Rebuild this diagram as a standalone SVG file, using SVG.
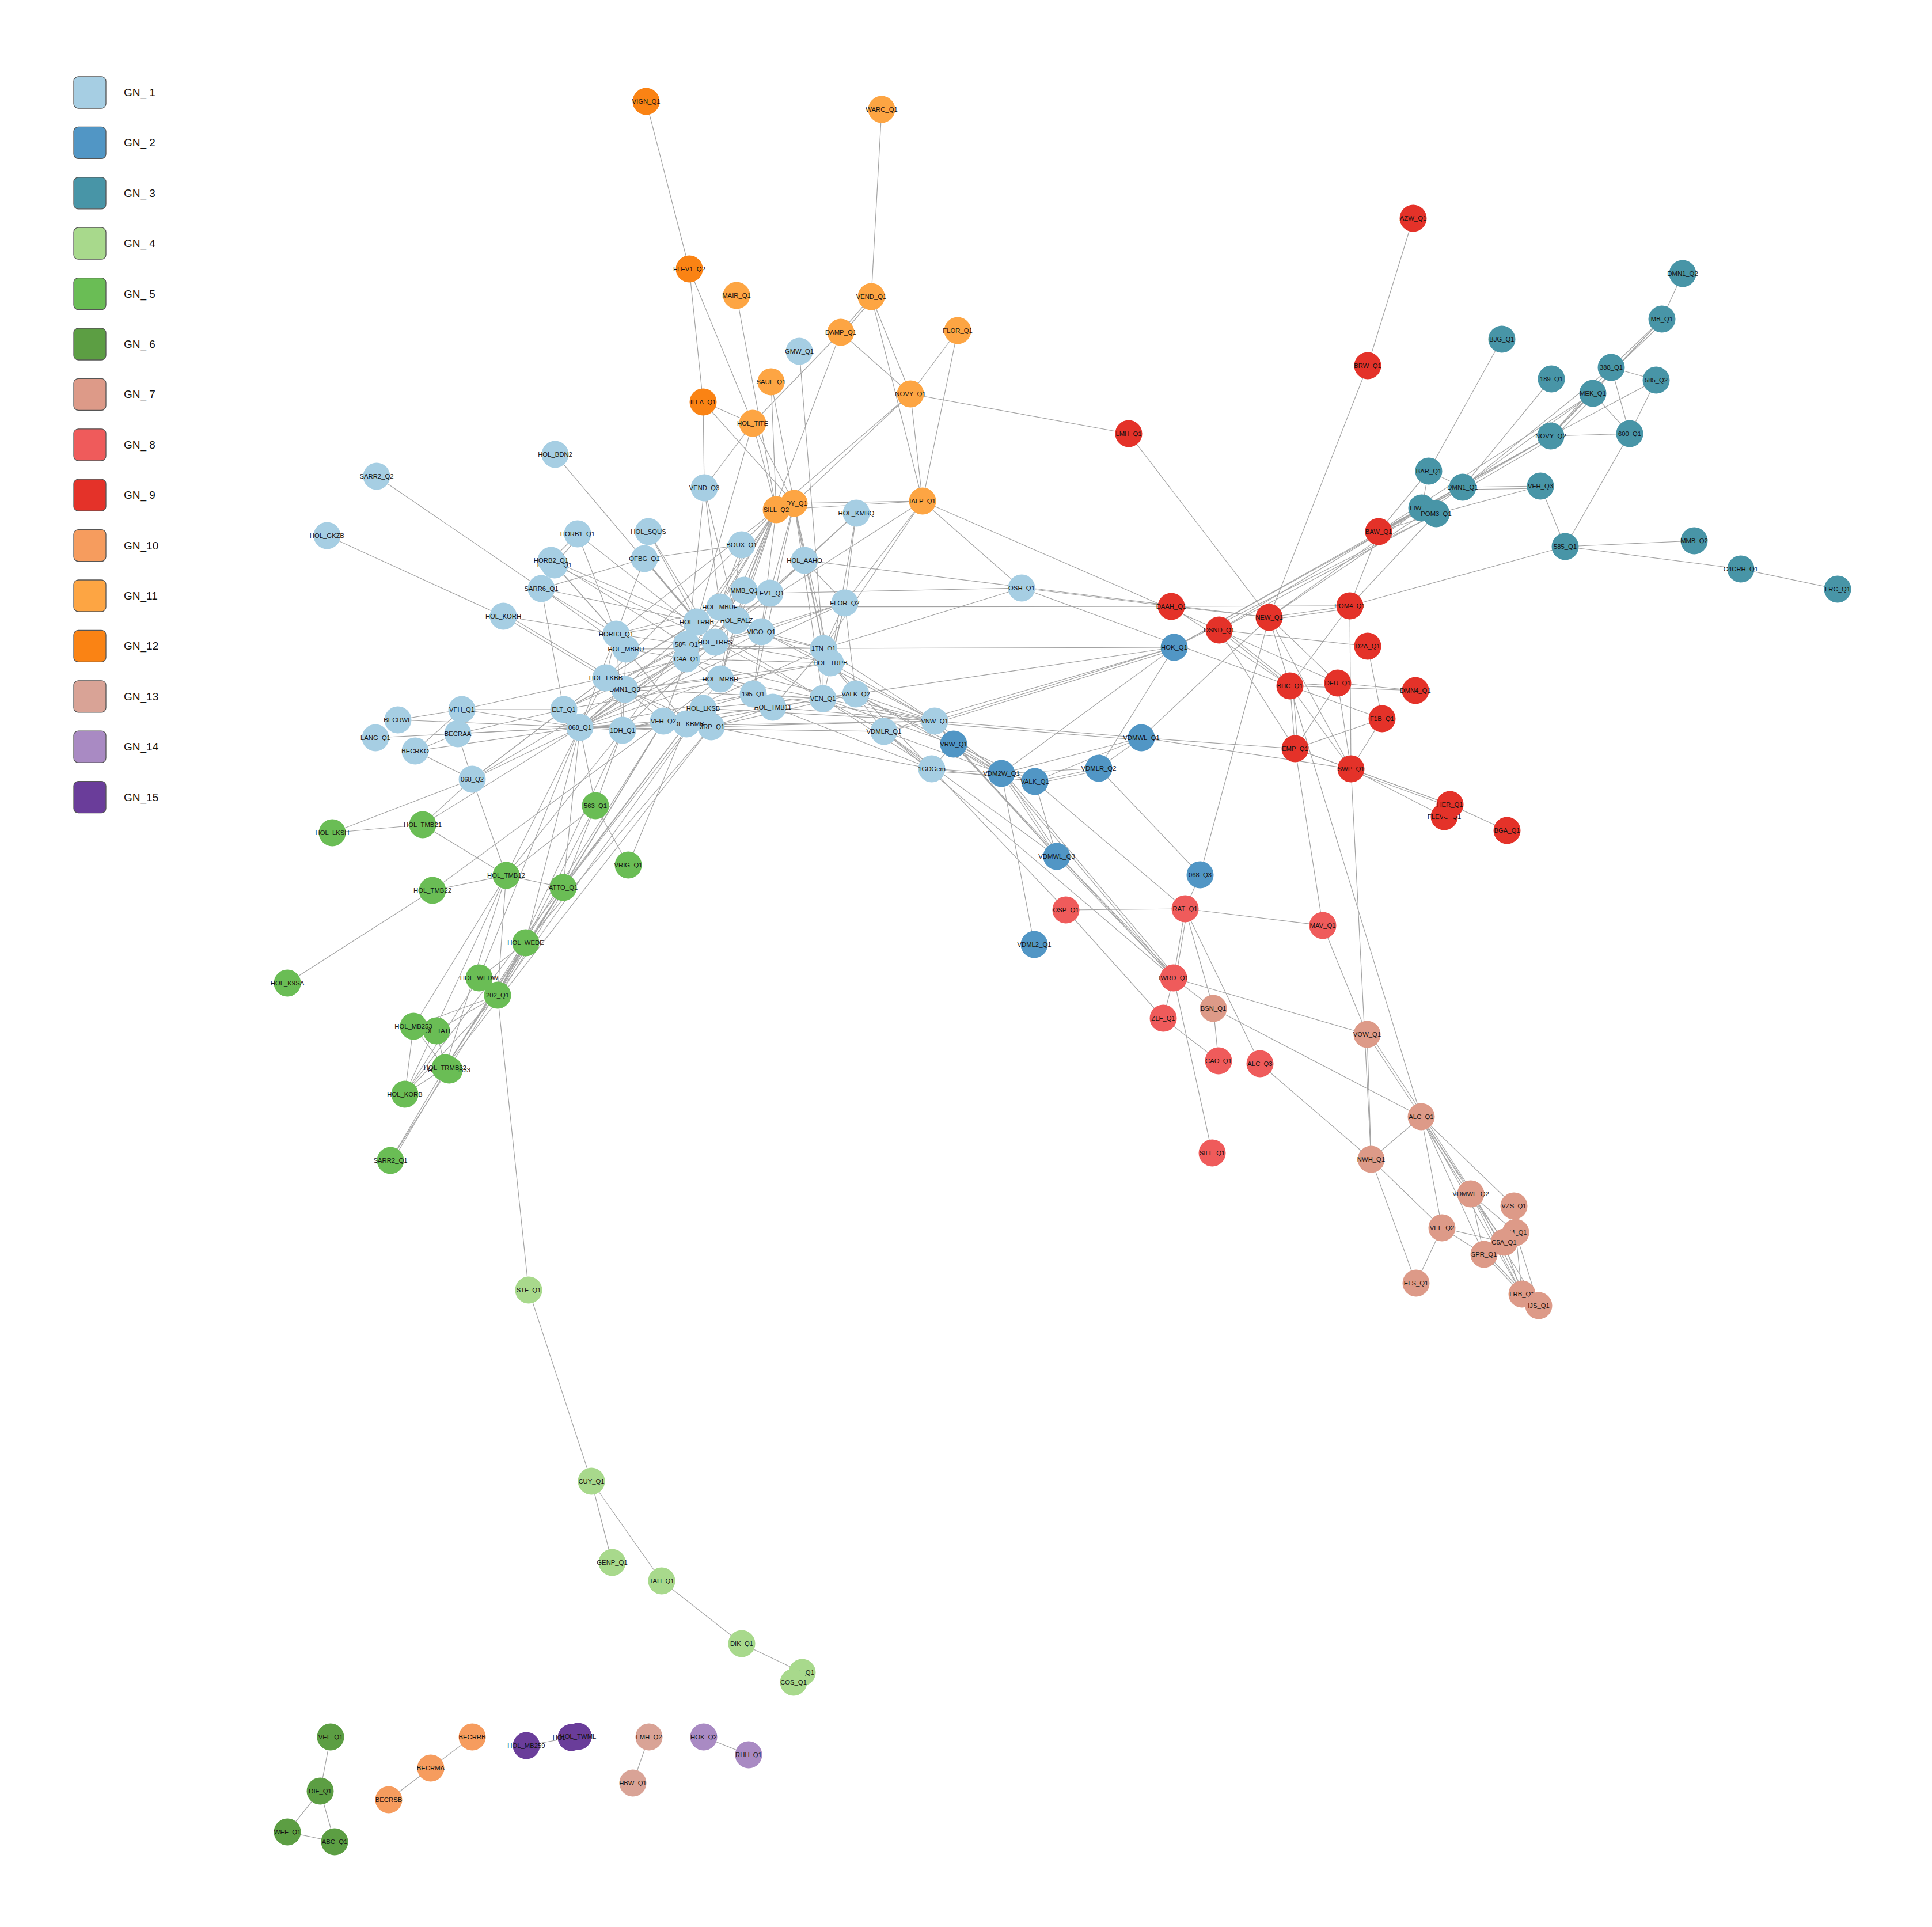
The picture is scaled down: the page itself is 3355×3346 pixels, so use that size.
<svg xmlns="http://www.w3.org/2000/svg" width="3355" height="3346" viewBox="0 0 3355 3346">
<style>
.t{font-family:"Liberation Sans",Arial,sans-serif;font-size:11.3px;fill:#111;text-anchor:middle;dominant-baseline:central}
.lg{font-family:"Liberation Sans",Arial,sans-serif;font-size:19px;fill:#111;dominant-baseline:central}
.lb{stroke:#555;stroke-width:1.3}
.c1{fill:#a6cee3}.c2{fill:#5196c5}.c3{fill:#4895a7}.c4{fill:#a8d98c}.c5{fill:#6abd55}.c6{fill:#5c9e43}.c7{fill:#dd9a88}.c8{fill:#ef5b5b}.c9{fill:#e43229}.c10{fill:#f69c5e}.c11{fill:#fda543}.c12{fill:#fa8314}.c13{fill:#d9a396}.c14{fill:#a98ac3}.c15{fill:#6a3d9a}
</style>
<rect width="3355" height="3346" fill="#fff"/>
<g id="legend">
<rect class="lb c1" x="128" y="133" width="56" height="55" rx="8"/><text class="lg" x="215" y="160.5">GN_ 1</text>
<rect class="lb c2" x="128" y="220.4" width="56" height="55" rx="8"/><text class="lg" x="215" y="247.9">GN_ 2</text>
<rect class="lb c3" x="128" y="307.8" width="56" height="55" rx="8"/><text class="lg" x="215" y="335.3">GN_ 3</text>
<rect class="lb c4" x="128" y="395.2" width="56" height="55" rx="8"/><text class="lg" x="215" y="422.7">GN_ 4</text>
<rect class="lb c5" x="128" y="482.6" width="56" height="55" rx="8"/><text class="lg" x="215" y="510.1">GN_ 5</text>
<rect class="lb c6" x="128" y="570" width="56" height="55" rx="8"/><text class="lg" x="215" y="597.5">GN_ 6</text>
<rect class="lb c7" x="128" y="657.4" width="56" height="55" rx="8"/><text class="lg" x="215" y="684.9">GN_ 7</text>
<rect class="lb c8" x="128" y="744.8" width="56" height="55" rx="8"/><text class="lg" x="215" y="772.3">GN_ 8</text>
<rect class="lb c9" x="128" y="832.2" width="56" height="55" rx="8"/><text class="lg" x="215" y="859.7">GN_ 9</text>
<rect class="lb c10" x="128" y="919.6" width="56" height="55" rx="8"/><text class="lg" x="215" y="947.1">GN_10</text>
<rect class="lb c11" x="128" y="1007" width="56" height="55" rx="8"/><text class="lg" x="215" y="1034.5">GN_11</text>
<rect class="lb c12" x="128" y="1094.4" width="56" height="55" rx="8"/><text class="lg" x="215" y="1121.9">GN_12</text>
<rect class="lb c13" x="128" y="1181.8" width="56" height="55" rx="8"/><text class="lg" x="215" y="1209.3">GN_13</text>
<rect class="lb c14" x="128" y="1269.2" width="56" height="55" rx="8"/><text class="lg" x="215" y="1296.7">GN_14</text>
<rect class="lb c15" x="128" y="1356.6" width="56" height="55" rx="8"/><text class="lg" x="215" y="1384.1">GN_15</text>
</g>
<g id="edges" stroke="#a3a3a3" stroke-width="1.2" fill="none">
<line x1="1122" y1="176" x2="1197" y2="467"/><line x1="1531" y1="190" x2="1513" y2="515"/><line x1="1197" y1="467" x2="1221" y2="698"/><line x1="1197" y1="467" x2="1307" y2="735"/><line x1="1279" y1="513" x2="1348" y2="885"/>
<line x1="1513" y1="515" x2="1460" y2="577"/><line x1="1516" y1="518" x2="1463" y2="580"/><line x1="1513" y1="515" x2="1581" y2="684"/><line x1="1513" y1="515" x2="1602" y2="870"/><line x1="1460" y1="577" x2="1307" y2="735"/><line x1="1460" y1="577" x2="1581" y2="684"/><line x1="1460" y1="577" x2="1292" y2="1025"/>
<line x1="1663" y1="574" x2="1581" y2="684"/><line x1="1663" y1="574" x2="1602" y2="870"/><line x1="1581" y1="684" x2="1602" y2="870"/><line x1="1581" y1="684" x2="1960" y2="753"/><line x1="1581" y1="684" x2="1379" y2="874"/><line x1="1581" y1="684" x2="1348" y2="885"/>
<line x1="1388" y1="610" x2="1430" y2="1126"/><line x1="1339" y1="663" x2="1348" y2="885"/><line x1="1339" y1="663" x2="1379" y2="874"/><line x1="1221" y1="698" x2="1223" y2="847"/><line x1="1221" y1="698" x2="1307" y2="735"/><line x1="1221" y1="698" x2="1379" y2="874"/>
<line x1="1307" y1="735" x2="1223" y2="847"/><line x1="1307" y1="735" x2="1210" y2="1080"/><line x1="1307" y1="735" x2="1348" y2="885"/><line x1="1307" y1="735" x2="1379" y2="874"/>
<line x1="1223" y1="847" x2="1192" y2="1144"/><line x1="1223" y1="847" x2="1250" y2="1054"/><line x1="1223" y1="847" x2="1279" y2="1077"/>
<line x1="1348" y1="885" x2="1210" y2="1080"/><line x1="1348" y1="885" x2="1250" y2="1054"/><line x1="1348" y1="885" x2="1242" y2="1115"/><line x1="1348" y1="885" x2="1192" y2="1119"/><line x1="1348" y1="885" x2="1251" y2="1179"/><line x1="1348" y1="885" x2="1292" y2="1025"/><line x1="1348" y1="885" x2="1279" y2="1077"/><line x1="1348" y1="885" x2="1322" y2="1097"/><line x1="1348" y1="885" x2="1192" y2="1144"/><line x1="1348" y1="885" x2="1070" y2="1101"/><line x1="1348" y1="885" x2="1052" y2="1177"/>
<line x1="1379" y1="874" x2="1430" y2="1126"/><line x1="1379" y1="874" x2="1442" y2="1151"/><line x1="1379" y1="874" x2="1337" y2="1030"/><line x1="1379" y1="874" x2="1397" y2="973"/><line x1="1379" y1="874" x2="1429" y2="1213"/><line x1="1379" y1="874" x2="1308" y2="1205"/>
<line x1="1602" y1="870" x2="1379" y2="874"/><line x1="1602" y1="870" x2="1348" y2="885"/><line x1="1602" y1="870" x2="1279" y2="1077"/><line x1="1602" y1="870" x2="1467" y2="1047"/><line x1="1602" y1="870" x2="2117" y2="1094"/><line x1="1602" y1="870" x2="1774" y2="1021"/><line x1="1602" y1="870" x2="1430" y2="1126"/>
<line x1="1487" y1="891" x2="1337" y2="1030"/><line x1="1487" y1="891" x2="1442" y2="1151"/><line x1="1487" y1="891" x2="1397" y2="973"/><line x1="1487" y1="891" x2="1467" y2="1047"/>
<line x1="964" y1="789" x2="1210" y2="1080"/><line x1="654" y1="827" x2="940" y2="1022"/><line x1="568" y1="930" x2="874" y2="1070"/>
<line x1="1003" y1="927" x2="957" y2="973"/><line x1="1006" y1="930" x2="963" y2="981"/><line x1="1003" y1="927" x2="1070" y2="1101"/><line x1="1003" y1="927" x2="1242" y2="1115"/>
<line x1="1126" y1="923" x2="1210" y2="1080"/><line x1="1126" y1="923" x2="1242" y2="1115"/>
<line x1="957" y1="973" x2="1070" y2="1101"/><line x1="963" y1="981" x2="1073" y2="1104"/><line x1="957" y1="973" x2="1210" y2="1080"/><line x1="963" y1="981" x2="1242" y2="1115"/><line x1="957" y1="973" x2="1192" y2="1119"/>
<line x1="1119" y1="970" x2="940" y2="1022"/><line x1="1119" y1="970" x2="1288" y2="946"/><line x1="1119" y1="970" x2="1070" y2="1101"/><line x1="1119" y1="970" x2="1210" y2="1080"/><line x1="1119" y1="970" x2="1242" y2="1115"/>
<line x1="1288" y1="946" x2="1250" y2="1054"/><line x1="1288" y1="946" x2="1251" y2="1179"/>
<line x1="1397" y1="973" x2="1337" y2="1030"/><line x1="1397" y1="973" x2="1279" y2="1077"/><line x1="1397" y1="973" x2="1430" y2="1126"/><line x1="1397" y1="973" x2="1467" y2="1047"/><line x1="1397" y1="973" x2="2204" y2="1072"/>
<line x1="940" y1="1022" x2="1070" y2="1101"/><line x1="940" y1="1022" x2="1087" y2="1127"/><line x1="940" y1="1022" x2="1210" y2="1080"/><line x1="940" y1="1022" x2="979" y2="1232"/>
<line x1="1292" y1="1025" x2="1192" y2="1144"/><line x1="1292" y1="1025" x2="1251" y2="1179"/><line x1="1292" y1="1025" x2="1210" y2="1080"/>
<line x1="1337" y1="1030" x2="1774" y2="1021"/><line x1="1337" y1="1030" x2="1322" y2="1097"/><line x1="1337" y1="1030" x2="1007" y2="1263"/>
<line x1="1250" y1="1054" x2="2034" y2="1053"/><line x1="1250" y1="1054" x2="1070" y2="1101"/><line x1="1250" y1="1054" x2="1052" y2="1177"/>
<line x1="1467" y1="1047" x2="1430" y2="1126"/><line x1="1467" y1="1047" x2="1429" y2="1213"/><line x1="1467" y1="1047" x2="1486" y2="1205"/><line x1="1467" y1="1047" x2="1442" y2="1151"/><line x1="1467" y1="1047" x2="1322" y2="1097"/><line x1="1467" y1="1047" x2="1242" y2="1115"/><line x1="1467" y1="1047" x2="1007" y2="1263"/>
<line x1="874" y1="1070" x2="1070" y2="1101"/><line x1="874" y1="1070" x2="1052" y2="1177"/><line x1="877" y1="1066" x2="1055" y2="1173"/>
<line x1="1210" y1="1080" x2="1279" y2="1077"/><line x1="1210" y1="1080" x2="1242" y2="1115"/><line x1="1210" y1="1080" x2="1070" y2="1101"/><line x1="1210" y1="1080" x2="1052" y2="1177"/><line x1="1210" y1="1080" x2="1007" y2="1263"/><line x1="1210" y1="1080" x2="1081" y2="1268"/><line x1="1210" y1="1080" x2="1430" y2="1126"/><line x1="1210" y1="1080" x2="1429" y2="1213"/>
<line x1="1279" y1="1077" x2="1242" y2="1115"/><line x1="1279" y1="1077" x2="1251" y2="1179"/><line x1="1279" y1="1077" x2="1007" y2="1263"/><line x1="1279" y1="1077" x2="979" y2="1232"/><line x1="1279" y1="1077" x2="1442" y2="1151"/>
<line x1="1322" y1="1097" x2="1242" y2="1115"/><line x1="1322" y1="1097" x2="1430" y2="1126"/><line x1="1322" y1="1097" x2="1308" y2="1205"/><line x1="1322" y1="1097" x2="1007" y2="1263"/><line x1="1322" y1="1097" x2="1623" y2="1252"/>
<line x1="1070" y1="1101" x2="1087" y2="1127"/><line x1="1070" y1="1101" x2="1192" y2="1119"/><line x1="1070" y1="1101" x2="1052" y2="1177"/><line x1="1070" y1="1101" x2="1081" y2="1268"/><line x1="1070" y1="1101" x2="1007" y2="1263"/>
<line x1="1087" y1="1127" x2="1192" y2="1144"/><line x1="1087" y1="1127" x2="1081" y2="1268"/><line x1="1087" y1="1127" x2="1192" y2="1257"/><line x1="1087" y1="1127" x2="1430" y2="1126"/>
<line x1="1192" y1="1119" x2="1430" y2="1126"/><line x1="1192" y1="1119" x2="979" y2="1232"/>
<line x1="1192" y1="1144" x2="1242" y2="1115"/><line x1="1192" y1="1144" x2="1007" y2="1263"/><line x1="1192" y1="1144" x2="1251" y2="1179"/><line x1="1192" y1="1144" x2="1442" y2="1151"/><line x1="1192" y1="1144" x2="1623" y2="1252"/><line x1="1192" y1="1144" x2="1052" y2="1177"/><line x1="1192" y1="1144" x2="1152" y2="1252"/>
<line x1="1242" y1="1115" x2="1442" y2="1151"/><line x1="1242" y1="1115" x2="1081" y2="1268"/><line x1="1242" y1="1115" x2="1429" y2="1213"/><line x1="1242" y1="1115" x2="979" y2="1232"/><line x1="1242" y1="1115" x2="1085" y2="1197"/>
<line x1="1430" y1="1126" x2="1342" y2="1228"/><line x1="1430" y1="1126" x2="1429" y2="1213"/><line x1="1430" y1="1126" x2="1623" y2="1252"/><line x1="1430" y1="1126" x2="1774" y2="1021"/><line x1="1430" y1="1126" x2="2039" y2="1124"/><line x1="1430" y1="1126" x2="1152" y2="1252"/>
<line x1="1442" y1="1151" x2="1486" y2="1205"/><line x1="1442" y1="1151" x2="1623" y2="1252"/><line x1="1442" y1="1151" x2="1618" y2="1335"/><line x1="1442" y1="1151" x2="1085" y2="1197"/><line x1="1442" y1="1151" x2="979" y2="1232"/>
<line x1="1052" y1="1177" x2="1085" y2="1197"/><line x1="1052" y1="1177" x2="979" y2="1232"/><line x1="1052" y1="1177" x2="1007" y2="1263"/><line x1="1052" y1="1177" x2="802" y2="1232"/><line x1="1052" y1="1177" x2="820" y2="1353"/><line x1="1052" y1="1177" x2="1192" y2="1257"/>
<line x1="1085" y1="1197" x2="1007" y2="1263"/><line x1="1085" y1="1197" x2="1152" y2="1252"/><line x1="1085" y1="1197" x2="1251" y2="1179"/><line x1="1085" y1="1197" x2="1429" y2="1213"/><line x1="1085" y1="1197" x2="1235" y2="1262"/>
<line x1="1251" y1="1179" x2="1308" y2="1205"/><line x1="1251" y1="1179" x2="1152" y2="1252"/><line x1="1251" y1="1179" x2="1192" y2="1257"/><line x1="1251" y1="1179" x2="1429" y2="1213"/><line x1="1251" y1="1179" x2="1007" y2="1263"/>
<line x1="1308" y1="1205" x2="1342" y2="1228"/><line x1="1308" y1="1205" x2="1429" y2="1213"/><line x1="1308" y1="1205" x2="1623" y2="1252"/><line x1="1308" y1="1205" x2="1007" y2="1263"/><line x1="1308" y1="1205" x2="1081" y2="1268"/>
<line x1="1342" y1="1228" x2="1429" y2="1213"/><line x1="1342" y1="1228" x2="1235" y2="1262"/><line x1="1342" y1="1228" x2="1623" y2="1252"/><line x1="1342" y1="1228" x2="1618" y2="1335"/><line x1="1342" y1="1228" x2="1152" y2="1252"/>
<line x1="1429" y1="1213" x2="1486" y2="1205"/><line x1="1429" y1="1213" x2="1535" y2="1270"/><line x1="1429" y1="1213" x2="1623" y2="1252"/><line x1="1429" y1="1213" x2="1618" y2="1335"/><line x1="1429" y1="1213" x2="1656" y2="1292"/><line x1="1429" y1="1213" x2="1192" y2="1257"/>
<line x1="1486" y1="1205" x2="1535" y2="1270"/><line x1="1486" y1="1205" x2="1623" y2="1252"/><line x1="1486" y1="1205" x2="1656" y2="1292"/><line x1="1486" y1="1205" x2="1739" y2="1343"/><line x1="1486" y1="1205" x2="2039" y2="1124"/><line x1="1486" y1="1205" x2="1235" y2="1262"/><line x1="1486" y1="1205" x2="1221" y2="1230"/>
<line x1="979" y1="1232" x2="1007" y2="1263"/><line x1="979" y1="1232" x2="795" y2="1274"/><line x1="979" y1="1232" x2="820" y2="1353"/><line x1="979" y1="1232" x2="802" y2="1232"/>
<line x1="1007" y1="1263" x2="1081" y2="1268"/><line x1="1007" y1="1263" x2="691" y2="1250"/><line x1="1007" y1="1263" x2="802" y2="1232"/><line x1="1007" y1="1263" x2="795" y2="1274"/><line x1="1007" y1="1263" x2="652" y2="1281"/><line x1="1007" y1="1263" x2="721" y2="1304"/><line x1="1007" y1="1263" x2="820" y2="1353"/><line x1="1007" y1="1263" x2="1034" y2="1399"/><line x1="1007" y1="1263" x2="879" y2="1520"/><line x1="1007" y1="1263" x2="832" y2="1698"/><line x1="1007" y1="1263" x2="913" y2="1637"/><line x1="1007" y1="1263" x2="1535" y2="1270"/><line x1="1007" y1="1263" x2="1623" y2="1252"/><line x1="1007" y1="1263" x2="1192" y2="1257"/><line x1="1007" y1="1263" x2="1152" y2="1252"/><line x1="1007" y1="1263" x2="978" y2="1541"/><line x1="1007" y1="1263" x2="734" y2="1432"/>
<line x1="1081" y1="1268" x2="1152" y2="1252"/><line x1="1081" y1="1268" x2="1034" y2="1399"/><line x1="1081" y1="1268" x2="879" y2="1520"/><line x1="1081" y1="1268" x2="1235" y2="1262"/><line x1="1081" y1="1268" x2="864" y2="1728"/><line x1="1081" y1="1268" x2="1221" y2="1230"/>
<line x1="1152" y1="1252" x2="1192" y2="1257"/><line x1="1152" y1="1252" x2="978" y2="1541"/><line x1="1152" y1="1252" x2="751" y2="1546"/><line x1="1152" y1="1252" x2="864" y2="1728"/><line x1="1152" y1="1252" x2="773" y2="1854"/>
<line x1="1192" y1="1257" x2="1221" y2="1230"/><line x1="1192" y1="1257" x2="1091" y2="1502"/><line x1="1192" y1="1257" x2="978" y2="1541"/><line x1="1192" y1="1257" x2="703" y2="1900"/>
<line x1="1221" y1="1230" x2="1235" y2="1262"/><line x1="1221" y1="1230" x2="978" y2="1541"/><line x1="1221" y1="1230" x2="864" y2="1728"/><line x1="1221" y1="1230" x2="1623" y2="1252"/>
<line x1="1235" y1="1262" x2="1623" y2="1252"/><line x1="1235" y1="1262" x2="773" y2="1854"/><line x1="1235" y1="1262" x2="913" y2="1637"/><line x1="1235" y1="1262" x2="1618" y2="1335"/>
<line x1="1535" y1="1270" x2="1623" y2="1252"/><line x1="1535" y1="1270" x2="1618" y2="1335"/><line x1="1535" y1="1270" x2="1739" y2="1343"/><line x1="1535" y1="1270" x2="2039" y2="1124"/><line x1="1535" y1="1270" x2="1835" y2="1487"/><line x1="1535" y1="1270" x2="2038" y2="1698"/>
<line x1="802" y1="1232" x2="691" y2="1250"/><line x1="802" y1="1232" x2="721" y2="1304"/><line x1="795" y1="1274" x2="721" y2="1304"/><line x1="795" y1="1274" x2="820" y2="1353"/><line x1="721" y1="1304" x2="820" y2="1353"/>
<line x1="820" y1="1353" x2="577" y2="1446"/><line x1="820" y1="1353" x2="734" y2="1432"/><line x1="820" y1="1353" x2="879" y2="1520"/><line x1="820" y1="1353" x2="1085" y2="1197"/>
<line x1="1034" y1="1399" x2="1091" y2="1502"/><line x1="1034" y1="1399" x2="879" y2="1520"/><line x1="1034" y1="1399" x2="978" y2="1541"/><line x1="1034" y1="1399" x2="864" y2="1728"/>
<line x1="577" y1="1446" x2="734" y2="1432"/><line x1="734" y1="1432" x2="879" y2="1520"/><line x1="879" y1="1520" x2="751" y2="1546"/><line x1="751" y1="1546" x2="499" y2="1707"/>
<line x1="879" y1="1520" x2="978" y2="1541"/><line x1="879" y1="1520" x2="718" y2="1782"/><line x1="879" y1="1520" x2="773" y2="1854"/><line x1="879" y1="1520" x2="864" y2="1728"/><line x1="879" y1="1520" x2="703" y2="1900"/>
<line x1="978" y1="1541" x2="864" y2="1728"/><line x1="981" y1="1543" x2="867" y2="1730"/><line x1="978" y1="1541" x2="773" y2="1854"/><line x1="978" y1="1541" x2="678" y2="2015"/>
<line x1="773" y1="1854" x2="678" y2="2015"/><line x1="776" y1="1856" x2="681" y2="2017"/>
<line x1="913" y1="1637" x2="832" y2="1698"/><line x1="913" y1="1637" x2="773" y2="1854"/><line x1="913" y1="1637" x2="864" y2="1728"/><line x1="832" y1="1698" x2="703" y2="1900"/>
<line x1="864" y1="1728" x2="718" y2="1782"/><line x1="864" y1="1728" x2="758" y2="1790"/><line x1="864" y1="1728" x2="703" y2="1900"/><line x1="864" y1="1728" x2="918" y2="2240"/>
<line x1="718" y1="1782" x2="773" y2="1854"/><line x1="718" y1="1782" x2="703" y2="1900"/><line x1="758" y1="1790" x2="773" y2="1854"/><line x1="773" y1="1854" x2="703" y2="1900"/>
<line x1="918" y1="2240" x2="1027" y2="2572"/><line x1="1027" y1="2572" x2="1063" y2="2713"/><line x1="1027" y1="2572" x2="1149" y2="2745"/><line x1="1149" y1="2745" x2="1288" y2="2854"/><line x1="1288" y1="2854" x2="1393" y2="2904"/>
<line x1="574" y1="3016" x2="556" y2="3110"/><line x1="556" y1="3110" x2="499" y2="3181"/><line x1="556" y1="3110" x2="581" y2="3198"/><line x1="499" y1="3181" x2="581" y2="3198"/>
<line x1="820" y1="3016" x2="748" y2="3070"/><line x1="748" y1="3070" x2="675" y2="3125"/><line x1="914" y1="3031" x2="992" y2="3017"/><line x1="1127" y1="3016" x2="1099" y2="3096"/><line x1="1222" y1="3016" x2="1300" y2="3047"/>
<line x1="2922" y1="475" x2="2886" y2="554"/><line x1="2886" y1="554" x2="2798" y2="638"/><line x1="2890" y1="558" x2="2802" y2="642"/><line x1="2886" y1="554" x2="2693" y2="757"/><line x1="2886" y1="554" x2="2766" y2="683"/>
<line x1="2608" y1="589" x2="2481" y2="818"/><line x1="2694" y1="658" x2="2540" y2="846"/>
<line x1="2798" y1="638" x2="2876" y2="660"/><line x1="2798" y1="638" x2="2830" y2="753"/><line x1="2798" y1="638" x2="2540" y2="846"/><line x1="2798" y1="638" x2="2693" y2="757"/>
<line x1="2766" y1="683" x2="2830" y2="753"/><line x1="2766" y1="683" x2="2693" y2="757"/><line x1="2770" y1="687" x2="2697" y2="761"/><line x1="2766" y1="683" x2="2540" y2="846"/><line x1="2766" y1="683" x2="2394" y2="923"/>
<line x1="2876" y1="660" x2="2693" y2="757"/><line x1="2876" y1="660" x2="2830" y2="753"/><line x1="2693" y1="757" x2="2830" y2="753"/><line x1="2693" y1="757" x2="2540" y2="846"/><line x1="2696" y1="761" x2="2543" y2="850"/><line x1="2693" y1="757" x2="2469" y2="882"/><line x1="2693" y1="757" x2="2394" y2="923"/>
<line x1="2830" y1="753" x2="2718" y2="949"/><line x1="2675" y1="844" x2="2540" y2="846"/><line x1="2675" y1="848" x2="2540" y2="850"/><line x1="2675" y1="844" x2="2494" y2="892"/><line x1="2675" y1="844" x2="2718" y2="949"/>
<line x1="2481" y1="818" x2="2540" y2="846"/><line x1="2481" y1="818" x2="2469" y2="882"/><line x1="2481" y1="818" x2="2394" y2="923"/>
<line x1="2718" y1="949" x2="2942" y2="939"/><line x1="2718" y1="949" x2="3023" y2="988"/><line x1="3023" y1="988" x2="3191" y2="1023"/><line x1="2718" y1="949" x2="2344" y2="1052"/><line x1="2494" y1="892" x2="2344" y2="1052"/>
<line x1="2540" y1="846" x2="2394" y2="923"/><line x1="2469" y1="882" x2="2394" y2="923"/><line x1="2494" y1="892" x2="2394" y2="923"/>
<line x1="2540" y1="846" x2="2204" y2="1072"/><line x1="2469" y1="882" x2="2204" y2="1072"/><line x1="2469" y1="882" x2="2117" y2="1094"/><line x1="2494" y1="892" x2="2117" y2="1094"/><line x1="2540" y1="846" x2="2039" y2="1124"/><line x1="2693" y1="757" x2="2039" y2="1124"/><line x1="2494" y1="892" x2="2039" y2="1124"/>
<line x1="2454" y1="379" x2="2375" y2="635"/><line x1="2375" y1="635" x2="2204" y2="1072"/><line x1="1960" y1="753" x2="2204" y2="1072"/><line x1="2394" y1="923" x2="2344" y2="1052"/>
<line x1="2034" y1="1053" x2="2204" y2="1072"/><line x1="2034" y1="1053" x2="2344" y2="1052"/><line x1="2034" y1="1053" x2="2240" y2="1191"/>
<line x1="2117" y1="1094" x2="2375" y2="1122"/><line x1="2117" y1="1094" x2="2323" y2="1186"/><line x1="2117" y1="1094" x2="2240" y2="1191"/><line x1="2119" y1="1090" x2="2242" y2="1187"/><line x1="2117" y1="1094" x2="2249" y2="1300"/>
<line x1="2204" y1="1072" x2="2344" y2="1052"/><line x1="2206" y1="1076" x2="2346" y2="1056"/><line x1="2204" y1="1072" x2="2240" y2="1191"/><line x1="2204" y1="1072" x2="2323" y2="1186"/><line x1="2204" y1="1072" x2="2346" y2="1335"/><line x1="2204" y1="1072" x2="2084" y2="1519"/>
<line x1="2344" y1="1052" x2="2240" y2="1191"/><line x1="2344" y1="1052" x2="2346" y2="1335"/><line x1="2375" y1="1122" x2="2400" y2="1248"/>
<line x1="2240" y1="1191" x2="2323" y2="1186"/><line x1="2240" y1="1191" x2="2458" y2="1199"/><line x1="2240" y1="1191" x2="2400" y2="1248"/><line x1="2240" y1="1191" x2="2249" y2="1300"/><line x1="2245" y1="1192" x2="2254" y2="1300"/><line x1="2240" y1="1191" x2="2346" y2="1335"/><line x1="2240" y1="1191" x2="2468" y2="1939"/>
<line x1="2323" y1="1186" x2="2458" y2="1199"/><line x1="2323" y1="1186" x2="2249" y2="1300"/><line x1="2323" y1="1186" x2="2346" y2="1335"/>
<line x1="2400" y1="1248" x2="2249" y2="1300"/><line x1="2400" y1="1248" x2="2346" y2="1335"/><line x1="2249" y1="1300" x2="2346" y2="1335"/><line x1="2249" y1="1300" x2="2518" y2="1397"/><line x1="2249" y1="1300" x2="2297" y2="1607"/>
<line x1="2346" y1="1335" x2="2518" y2="1397"/><line x1="2347" y1="1339" x2="2519" y2="1401"/><line x1="2346" y1="1335" x2="2508" y2="1418"/><line x1="2346" y1="1335" x2="2381" y2="2013"/><line x1="2518" y1="1397" x2="2617" y2="1442"/>
<line x1="1982" y1="1281" x2="2249" y2="1300"/><line x1="1982" y1="1281" x2="2346" y2="1335"/><line x1="1982" y1="1281" x2="2204" y2="1072"/>
<line x1="1774" y1="1021" x2="2034" y2="1053"/><line x1="1774" y1="1021" x2="2240" y2="1191"/>
<line x1="2039" y1="1124" x2="1623" y2="1252"/><line x1="2039" y1="1128" x2="1623" y2="1256"/><line x1="2039" y1="1124" x2="1908" y2="1334"/><line x1="2039" y1="1124" x2="1739" y2="1343"/>
<line x1="1656" y1="1292" x2="1739" y2="1343"/><line x1="1658" y1="1288" x2="1741" y2="1339"/><line x1="1654" y1="1296" x2="1737" y2="1347"/><line x1="1656" y1="1292" x2="1797" y2="1357"/><line x1="1656" y1="1292" x2="1623" y2="1252"/><line x1="1656" y1="1292" x2="1618" y2="1335"/><line x1="1656" y1="1292" x2="2038" y2="1698"/><line x1="1656" y1="1292" x2="1835" y2="1487"/>
<line x1="1739" y1="1343" x2="1797" y2="1357"/><line x1="1739" y1="1343" x2="1908" y2="1334"/><line x1="1739" y1="1343" x2="1982" y2="1281"/><line x1="1739" y1="1343" x2="1835" y2="1487"/><line x1="1743" y1="1341" x2="1839" y2="1485"/><line x1="1739" y1="1343" x2="1796" y2="1640"/><line x1="1739" y1="1343" x2="1618" y2="1335"/><line x1="1739" y1="1347" x2="1618" y2="1339"/><line x1="1739" y1="1343" x2="1623" y2="1252"/><line x1="1739" y1="1343" x2="2038" y2="1698"/><line x1="1743" y1="1341" x2="2042" y2="1696"/>
<line x1="1797" y1="1357" x2="1908" y2="1334"/><line x1="1797" y1="1361" x2="1908" y2="1338"/><line x1="1797" y1="1357" x2="1982" y2="1281"/><line x1="1797" y1="1357" x2="1835" y2="1487"/><line x1="1797" y1="1357" x2="2058" y2="1578"/><line x1="1797" y1="1357" x2="1618" y2="1335"/>
<line x1="1908" y1="1334" x2="1982" y2="1281"/><line x1="1908" y1="1334" x2="2084" y2="1519"/><line x1="1982" y1="1281" x2="1623" y2="1252"/><line x1="1982" y1="1285" x2="1623" y2="1256"/>
<line x1="1835" y1="1487" x2="2038" y2="1698"/><line x1="1838" y1="1485" x2="2041" y2="1696"/><line x1="1835" y1="1487" x2="1623" y2="1252"/><line x1="2084" y1="1519" x2="2058" y2="1578"/>
<line x1="1618" y1="1335" x2="1851" y2="1580"/><line x1="1851" y1="1580" x2="2058" y2="1578"/><line x1="1851" y1="1580" x2="2020" y2="1768"/>
<line x1="2058" y1="1578" x2="2038" y2="1698"/><line x1="2062" y1="1578" x2="2042" y2="1698"/><line x1="2058" y1="1578" x2="2107" y2="1751"/><line x1="2058" y1="1578" x2="2188" y2="1847"/><line x1="2058" y1="1578" x2="2297" y2="1607"/>
<line x1="2038" y1="1698" x2="2020" y2="1768"/><line x1="2038" y1="1698" x2="2105" y2="2002"/><line x1="2038" y1="1698" x2="2107" y2="1751"/><line x1="2038" y1="1698" x2="2374" y2="1796"/>
<line x1="2107" y1="1751" x2="2116" y2="1842"/><line x1="2107" y1="1751" x2="2468" y2="1939"/><line x1="2020" y1="1768" x2="2116" y2="1842"/><line x1="2188" y1="1847" x2="2381" y2="2013"/>
<line x1="2297" y1="1607" x2="2374" y2="1796"/><line x1="2374" y1="1796" x2="2468" y2="1939"/><line x1="2378" y1="1794" x2="2472" y2="1937"/><line x1="2374" y1="1796" x2="2381" y2="2013"/>
<line x1="2468" y1="1939" x2="2381" y2="2013"/><line x1="2468" y1="1939" x2="2504" y2="2132"/><line x1="2468" y1="1939" x2="2554" y2="2073"/><line x1="2471" y1="1937" x2="2557" y2="2071"/><line x1="2465" y1="1941" x2="2551" y2="2075"/><line x1="2468" y1="1939" x2="2612" y2="2157"/><line x1="2468" y1="1939" x2="2577" y2="2178"/><line x1="2468" y1="1939" x2="2629" y2="2094"/><line x1="2468" y1="1939" x2="2643" y2="2247"/>
<line x1="2381" y1="2013" x2="2504" y2="2132"/><line x1="2381" y1="2013" x2="2459" y2="2228"/><line x1="2504" y1="2132" x2="2459" y2="2228"/><line x1="2504" y1="2132" x2="2612" y2="2157"/><line x1="2504" y1="2132" x2="2577" y2="2178"/>
<line x1="2554" y1="2073" x2="2577" y2="2178"/><line x1="2554" y1="2073" x2="2612" y2="2157"/><line x1="2554" y1="2073" x2="2643" y2="2247"/><line x1="2558" y1="2071" x2="2647" y2="2245"/><line x1="2554" y1="2073" x2="2632" y2="2140"/><line x1="2554" y1="2073" x2="2672" y2="2267"/>
<line x1="2629" y1="2094" x2="2612" y2="2157"/><line x1="2577" y1="2178" x2="2643" y2="2247"/><line x1="2580" y1="2176" x2="2646" y2="2245"/><line x1="2612" y1="2157" x2="2643" y2="2247"/><line x1="2632" y1="2140" x2="2672" y2="2267"/><line x1="2632" y1="2140" x2="2643" y2="2247"/>
</g>
<g id="nodes">
<g id="n-VIGN_Q1"><circle class="c12" cx="1122" cy="176" r="23.5"/><text class="t" x="1122" y="176">VIGN_Q1</text></g>
<g id="n-WARC_Q1"><circle class="c11" cx="1531" cy="190" r="23.5"/><text class="t" x="1531" y="190">WARC_Q1</text></g>
<g id="n-FLEV1_Q2"><circle class="c12" cx="1197" cy="467" r="23.5"/><text class="t" x="1197" y="467">FLEV1_Q2</text></g>
<g id="n-MAIR_Q1"><circle class="c11" cx="1279" cy="513" r="23.5"/><text class="t" x="1279" y="513">MAIR_Q1</text></g>
<g id="n-VEND_Q1"><circle class="c11" cx="1513" cy="515" r="23.5"/><text class="t" x="1513" y="515">VEND_Q1</text></g>
<g id="n-DAMP_Q1"><circle class="c11" cx="1460" cy="577" r="23.5"/><text class="t" x="1460" y="577">DAMP_Q1</text></g>
<g id="n-FLOR_Q1"><circle class="c11" cx="1663" cy="574" r="23.5"/><text class="t" x="1663" y="574">FLOR_Q1</text></g>
<g id="n-GMW_Q1"><circle class="c1" cx="1388" cy="610" r="23.5"/><text class="t" x="1388" y="610">GMW_Q1</text></g>
<g id="n-SAUL_Q1"><circle class="c11" cx="1339" cy="663" r="23.5"/><text class="t" x="1339" y="663">SAUL_Q1</text></g>
<g id="n-NOVY_Q1"><circle class="c11" cx="1581" cy="684" r="23.5"/><text class="t" x="1581" y="684">NOVY_Q1</text></g>
<g id="n-ILLA_Q1"><circle class="c12" cx="1221" cy="698" r="23.5"/><text class="t" x="1221" y="698">ILLA_Q1</text></g>
<g id="n-HOL_TITE"><circle class="c11" cx="1307" cy="735" r="23.5"/><text class="t" x="1307" y="735">HOL_TITE</text></g>
<g id="n-VEND_Q3"><circle class="c1" cx="1223" cy="847" r="23.5"/><text class="t" x="1223" y="847">VEND_Q3</text></g>
<g id="n-HOY_Q1"><circle class="c11" cx="1379" cy="874" r="23.5"/><text class="t" x="1379" y="874">HOY_Q1</text></g>
<g id="n-SILL_Q2"><circle class="c11" cx="1348" cy="885" r="23.5"/><text class="t" x="1348" y="885">SILL_Q2</text></g>
<g id="n-IALP_Q1"><circle class="c11" cx="1602" cy="870" r="23.5"/><text class="t" x="1602" y="870">IALP_Q1</text></g>
<g id="n-HOL_KMBQ"><circle class="c1" cx="1487" cy="891" r="23.5"/><text class="t" x="1487" y="891">HOL_KMBQ</text></g>
<g id="n-HOL_BDN2"><circle class="c1" cx="964" cy="789" r="23.5"/><text class="t" x="964" y="789">HOL_BDN2</text></g>
<g id="n-SARR2_Q2"><circle class="c1" cx="654" cy="827" r="23.5"/><text class="t" x="654" y="827">SARR2_Q2</text></g>
<g id="n-HOL_GKZB"><circle class="c1" cx="568" cy="930" r="23.5"/><text class="t" x="568" y="930">HOL_GKZB</text></g>
<g id="n-HORB1_Q1"><circle class="c1" cx="1003" cy="927" r="23.5"/><text class="t" x="1003" y="927">HORB1_Q1</text></g>
<g id="n-HOL_SQUS"><circle class="c1" cx="1126" cy="923" r="23.5"/><text class="t" x="1126" y="923">HOL_SQUS</text></g>
<g id="n-HORB4_Q1"><circle class="c1" cx="963" cy="981" r="23.5"/><text class="t" x="963" y="981">HORB4_Q1</text></g>
<g id="n-HORB2_Q1"><circle class="c1" cx="957" cy="973" r="23.5"/><text class="t" x="957" y="973">HORB2_Q1</text></g>
<g id="n-OFBG_Q1"><circle class="c1" cx="1119" cy="970" r="23.5"/><text class="t" x="1119" y="970">OFBG_Q1</text></g>
<g id="n-BOUX_Q1"><circle class="c1" cx="1288" cy="946" r="23.5"/><text class="t" x="1288" y="946">BOUX_Q1</text></g>
<g id="n-HOL_AAHO"><circle class="c1" cx="1397" cy="973" r="23.5"/><text class="t" x="1397" y="973">HOL_AAHO</text></g>
<g id="n-SARR6_Q1"><circle class="c1" cx="940" cy="1022" r="23.5"/><text class="t" x="940" y="1022">SARR6_Q1</text></g>
<g id="n-MMB_Q1"><circle class="c1" cx="1292" cy="1025" r="23.5"/><text class="t" x="1292" y="1025">MMB_Q1</text></g>
<g id="n-LEV1_Q1"><circle class="c1" cx="1337" cy="1030" r="23.5"/><text class="t" x="1337" y="1030">LEV1_Q1</text></g>
<g id="n-FLOR_Q2"><circle class="c1" cx="1467" cy="1047" r="23.5"/><text class="t" x="1467" y="1047">FLOR_Q2</text></g>
<g id="n-HOL_KORH"><circle class="c1" cx="874" cy="1070" r="23.5"/><text class="t" x="874" y="1070">HOL_KORH</text></g>
<g id="n-HOL_PALZ"><circle class="c1" cx="1279" cy="1077" r="23.5"/><text class="t" x="1279" y="1077">HOL_PALZ</text></g>
<g id="n-HOL_MBUF"><circle class="c1" cx="1250" cy="1054" r="23.5"/><text class="t" x="1250" y="1054">HOL_MBUF</text></g>
<g id="n-HOL_TRRB"><circle class="c1" cx="1210" cy="1080" r="23.5"/><text class="t" x="1210" y="1080">HOL_TRRB</text></g>
<g id="n-VIGO_Q1"><circle class="c1" cx="1322" cy="1097" r="23.5"/><text class="t" x="1322" y="1097">VIGO_Q1</text></g>
<g id="n-HOL_MBRU"><circle class="c1" cx="1087" cy="1127" r="23.5"/><text class="t" x="1087" y="1127">HOL_MBRU</text></g>
<g id="n-HORB3_Q1"><circle class="c1" cx="1070" cy="1101" r="23.5"/><text class="t" x="1070" y="1101">HORB3_Q1</text></g>
<g id="n-585_Q1b"><circle class="c1" cx="1192" cy="1119" r="23.5"/><text class="t" x="1192" y="1119">585_Q1</text></g>
<g id="n-C4A_Q1"><circle class="c1" cx="1192" cy="1144" r="23.5"/><text class="t" x="1192" y="1144">C4A_Q1</text></g>
<g id="n-HOL_TRRS"><circle class="c1" cx="1242" cy="1115" r="23.5"/><text class="t" x="1242" y="1115">HOL_TRRS</text></g>
<g id="n-1TN_Q1"><circle class="c1" cx="1430" cy="1126" r="23.5"/><text class="t" x="1430" y="1126">1TN_Q1</text></g>
<g id="n-HOL_TRPB"><circle class="c1" cx="1442" cy="1151" r="23.5"/><text class="t" x="1442" y="1151">HOL_TRPB</text></g>
<g id="n-DMN1_Q3"><circle class="c1" cx="1085" cy="1197" r="23.5"/><text class="t" x="1085" y="1197">DMN1_Q3</text></g>
<g id="n-HOL_LKBB"><circle class="c1" cx="1052" cy="1177" r="23.5"/><text class="t" x="1052" y="1177">HOL_LKBB</text></g>
<g id="n-HOL_MRBR"><circle class="c1" cx="1251" cy="1179" r="23.5"/><text class="t" x="1251" y="1179">HOL_MRBR</text></g>
<g id="n-HOL_TMB11"><circle class="c1" cx="1342" cy="1228" r="23.5"/><text class="t" x="1342" y="1228">HOL_TMB11</text></g>
<g id="n-195_Q1"><circle class="c1" cx="1308" cy="1205" r="23.5"/><text class="t" x="1308" y="1205">195_Q1</text></g>
<g id="n-VEN_Q1"><circle class="c1" cx="1429" cy="1213" r="23.5"/><text class="t" x="1429" y="1213">VEN_Q1</text></g>
<g id="n-VALK_Q2"><circle class="c1" cx="1486" cy="1205" r="23.5"/><text class="t" x="1486" y="1205">VALK_Q2</text></g>
<g id="n-ELT_Q1"><circle class="c1" cx="979" cy="1232" r="23.5"/><text class="t" x="979" y="1232">ELT_Q1</text></g>
<g id="n-068_Q1"><circle class="c1" cx="1007" cy="1263" r="23.5"/><text class="t" x="1007" y="1263">068_Q1</text></g>
<g id="n-1DH_Q1"><circle class="c1" cx="1081" cy="1268" r="23.5"/><text class="t" x="1081" y="1268">1DH_Q1</text></g>
<g id="n-HOL_LKSB"><circle class="c1" cx="1221" cy="1230" r="23.5"/><text class="t" x="1221" y="1230">HOL_LKSB</text></g>
<g id="n-MRP_Q1"><circle class="c1" cx="1235" cy="1262" r="23.5"/><text class="t" x="1235" y="1262">MRP_Q1</text></g>
<g id="n-HOL_KBMB"><circle class="c1" cx="1192" cy="1257" r="23.5"/><text class="t" x="1192" y="1257">HOL_KBMB</text></g>
<g id="n-VFH_Q2"><circle class="c1" cx="1152" cy="1252" r="23.5"/><text class="t" x="1152" y="1252">VFH_Q2</text></g>
<g id="n-VDMLR_Q1"><circle class="c1" cx="1535" cy="1270" r="23.5"/><text class="t" x="1535" y="1270">VDMLR_Q1</text></g>
<g id="n-VNW_Q1"><circle class="c1" cx="1623" cy="1252" r="23.5"/><text class="t" x="1623" y="1252">VNW_Q1</text></g>
<g id="n-1GDGem"><circle class="c1" cx="1618" cy="1335" r="23.5"/><text class="t" x="1618" y="1335">1GDGem</text></g>
<g id="n-OSH_Q1"><circle class="c1" cx="1774" cy="1021" r="23.5"/><text class="t" x="1774" y="1021">OSH_Q1</text></g>
<g id="n-VFH_Q1"><circle class="c1" cx="802" cy="1232" r="23.5"/><text class="t" x="802" y="1232">VFH_Q1</text></g>
<g id="n-BECRWE"><circle class="c1" cx="691" cy="1250" r="23.5"/><text class="t" x="691" y="1250">BECRWE</text></g>
<g id="n-BECRAA"><circle class="c1" cx="795" cy="1274" r="23.5"/><text class="t" x="795" y="1274">BECRAA</text></g>
<g id="n-LANG_Q1"><circle class="c1" cx="652" cy="1281" r="23.5"/><text class="t" x="652" y="1281">LANG_Q1</text></g>
<g id="n-BECRKO"><circle class="c1" cx="721" cy="1304" r="23.5"/><text class="t" x="721" y="1304">BECRKO</text></g>
<g id="n-068_Q2"><circle class="c1" cx="820" cy="1353" r="23.5"/><text class="t" x="820" y="1353">068_Q2</text></g>
<g id="n-HOK_Q1"><circle class="c2" cx="2039" cy="1124" r="23.5"/><text class="t" x="2039" y="1124">HOK_Q1</text></g>
<g id="n-VRW_Q1"><circle class="c2" cx="1656" cy="1292" r="23.5"/><text class="t" x="1656" y="1292">VRW_Q1</text></g>
<g id="n-VDM2W_Q1"><circle class="c2" cx="1739" cy="1343" r="23.5"/><text class="t" x="1739" y="1343">VDM2W_Q1</text></g>
<g id="n-VALK_Q1"><circle class="c2" cx="1797" cy="1357" r="23.5"/><text class="t" x="1797" y="1357">VALK_Q1</text></g>
<g id="n-VDMLR_Q2"><circle class="c2" cx="1908" cy="1334" r="23.5"/><text class="t" x="1908" y="1334">VDMLR_Q2</text></g>
<g id="n-VDMWL_Q1"><circle class="c2" cx="1982" cy="1281" r="23.5"/><text class="t" x="1982" y="1281">VDMWL_Q1</text></g>
<g id="n-VDMWL_Q3"><circle class="c2" cx="1835" cy="1487" r="23.5"/><text class="t" x="1835" y="1487">VDMWL_Q3</text></g>
<g id="n-068_Q3"><circle class="c2" cx="2084" cy="1519" r="23.5"/><text class="t" x="2084" y="1519">068_Q3</text></g>
<g id="n-VDML2_Q1"><circle class="c2" cx="1796" cy="1640" r="23.5"/><text class="t" x="1796" y="1640">VDML2_Q1</text></g>
<g id="n-DMN1_Q2"><circle class="c3" cx="2922" cy="475" r="23.5"/><text class="t" x="2922" y="475">DMN1_Q2</text></g>
<g id="n-MB_Q1"><circle class="c3" cx="2886" cy="554" r="23.5"/><text class="t" x="2886" y="554">MB_Q1</text></g>
<g id="n-BJG_Q1"><circle class="c3" cx="2608" cy="589" r="23.5"/><text class="t" x="2608" y="589">BJG_Q1</text></g>
<g id="n-388_Q1"><circle class="c3" cx="2798" cy="638" r="23.5"/><text class="t" x="2798" y="638">388_Q1</text></g>
<g id="n-189_Q1"><circle class="c3" cx="2694" cy="658" r="23.5"/><text class="t" x="2694" y="658">189_Q1</text></g>
<g id="n-585_Q2"><circle class="c3" cx="2876" cy="660" r="23.5"/><text class="t" x="2876" y="660">585_Q2</text></g>
<g id="n-MEK_Q1"><circle class="c3" cx="2766" cy="683" r="23.5"/><text class="t" x="2766" y="683">MEK_Q1</text></g>
<g id="n-NOVY_Q2"><circle class="c3" cx="2693" cy="757" r="23.5"/><text class="t" x="2693" y="757">NOVY_Q2</text></g>
<g id="n-600_Q1"><circle class="c3" cx="2830" cy="753" r="23.5"/><text class="t" x="2830" y="753">600_Q1</text></g>
<g id="n-BAR_Q1"><circle class="c3" cx="2481" cy="818" r="23.5"/><text class="t" x="2481" y="818">BAR_Q1</text></g>
<g id="n-DMN1_Q1"><circle class="c3" cx="2540" cy="846" r="23.5"/><text class="t" x="2540" y="846">DMN1_Q1</text></g>
<g id="n-VFH_Q3"><circle class="c3" cx="2675" cy="844" r="23.5"/><text class="t" x="2675" y="844">VFH_Q3</text></g>
<g id="n-LIW_Q1"><circle class="c3" cx="2469" cy="882" r="23.5"/><text class="t" x="2469" y="882">LIW_Q1</text></g>
<g id="n-POM3_Q1"><circle class="c3" cx="2494" cy="892" r="23.5"/><text class="t" x="2494" y="892">POM3_Q1</text></g>
<g id="n-585_Q1"><circle class="c3" cx="2718" cy="949" r="23.5"/><text class="t" x="2718" y="949">585_Q1</text></g>
<g id="n-MMB_Q2"><circle class="c3" cx="2942" cy="939" r="23.5"/><text class="t" x="2942" y="939">MMB_Q2</text></g>
<g id="n-C4CRH_Q1"><circle class="c3" cx="3023" cy="988" r="23.5"/><text class="t" x="3023" y="988">C4CRH_Q1</text></g>
<g id="n-LRC_Q1"><circle class="c3" cx="3191" cy="1023" r="23.5"/><text class="t" x="3191" y="1023">LRC_Q1</text></g>
<g id="n-AZW_Q1"><circle class="c9" cx="2454" cy="379" r="23.5"/><text class="t" x="2454" y="379">AZW_Q1</text></g>
<g id="n-BRW_Q1"><circle class="c9" cx="2375" cy="635" r="23.5"/><text class="t" x="2375" y="635">BRW_Q1</text></g>
<g id="n-LMH_Q1"><circle class="c9" cx="1960" cy="753" r="23.5"/><text class="t" x="1960" y="753">LMH_Q1</text></g>
<g id="n-BAW_Q1"><circle class="c9" cx="2394" cy="923" r="23.5"/><text class="t" x="2394" y="923">BAW_Q1</text></g>
<g id="n-DAAH_Q1"><circle class="c9" cx="2034" cy="1053" r="23.5"/><text class="t" x="2034" y="1053">DAAH_Q1</text></g>
<g id="n-OSND_Q1"><circle class="c9" cx="2117" cy="1094" r="23.5"/><text class="t" x="2117" y="1094">OSND_Q1</text></g>
<g id="n-NEW_Q1"><circle class="c9" cx="2204" cy="1072" r="23.5"/><text class="t" x="2204" y="1072">NEW_Q1</text></g>
<g id="n-POM4_Q1"><circle class="c9" cx="2344" cy="1052" r="23.5"/><text class="t" x="2344" y="1052">POM4_Q1</text></g>
<g id="n-D2A_Q1"><circle class="c9" cx="2375" cy="1122" r="23.5"/><text class="t" x="2375" y="1122">D2A_Q1</text></g>
<g id="n-BHC_Q1"><circle class="c9" cx="2240" cy="1191" r="23.5"/><text class="t" x="2240" y="1191">BHC_Q1</text></g>
<g id="n-DEU_Q1"><circle class="c9" cx="2323" cy="1186" r="23.5"/><text class="t" x="2323" y="1186">DEU_Q1</text></g>
<g id="n-DMN4_Q1"><circle class="c9" cx="2458" cy="1199" r="23.5"/><text class="t" x="2458" y="1199">DMN4_Q1</text></g>
<g id="n-F1B_Q1"><circle class="c9" cx="2400" cy="1248" r="23.5"/><text class="t" x="2400" y="1248">F1B_Q1</text></g>
<g id="n-EMP_Q1"><circle class="c9" cx="2249" cy="1300" r="23.5"/><text class="t" x="2249" y="1300">EMP_Q1</text></g>
<g id="n-SWP_Q1"><circle class="c9" cx="2346" cy="1335" r="23.5"/><text class="t" x="2346" y="1335">SWP_Q1</text></g>
<g id="n-FLEVO_Q1"><circle class="c9" cx="2508" cy="1418" r="23.5"/><text class="t" x="2508" y="1418">FLEVO_Q1</text></g>
<g id="n-HER_Q1"><circle class="c9" cx="2518" cy="1397" r="23.5"/><text class="t" x="2518" y="1397">HER_Q1</text></g>
<g id="n-BGA_Q1"><circle class="c9" cx="2617" cy="1442" r="23.5"/><text class="t" x="2617" y="1442">BGA_Q1</text></g>
<g id="n-OSP_Q1"><circle class="c8" cx="1851" cy="1580" r="23.5"/><text class="t" x="1851" y="1580">OSP_Q1</text></g>
<g id="n-RAT_Q1"><circle class="c8" cx="2058" cy="1578" r="23.5"/><text class="t" x="2058" y="1578">RAT_Q1</text></g>
<g id="n-MAV_Q1"><circle class="c8" cx="2297" cy="1607" r="23.5"/><text class="t" x="2297" y="1607">MAV_Q1</text></g>
<g id="n-IWRD_Q1"><circle class="c8" cx="2038" cy="1698" r="23.5"/><text class="t" x="2038" y="1698">IWRD_Q1</text></g>
<g id="n-ZLF_Q1"><circle class="c8" cx="2020" cy="1768" r="23.5"/><text class="t" x="2020" y="1768">ZLF_Q1</text></g>
<g id="n-CAO_Q1"><circle class="c8" cx="2116" cy="1842" r="23.5"/><text class="t" x="2116" y="1842">CAO_Q1</text></g>
<g id="n-ALC_Q3"><circle class="c8" cx="2188" cy="1847" r="23.5"/><text class="t" x="2188" y="1847">ALC_Q3</text></g>
<g id="n-SILL_Q1"><circle class="c8" cx="2105" cy="2002" r="23.5"/><text class="t" x="2105" y="2002">SILL_Q1</text></g>
<g id="n-BSN_Q1"><circle class="c7" cx="2107" cy="1751" r="23.5"/><text class="t" x="2107" y="1751">BSN_Q1</text></g>
<g id="n-VOW_Q1"><circle class="c7" cx="2374" cy="1796" r="23.5"/><text class="t" x="2374" y="1796">VOW_Q1</text></g>
<g id="n-ALC_Q1"><circle class="c7" cx="2468" cy="1939" r="23.5"/><text class="t" x="2468" y="1939">ALC_Q1</text></g>
<g id="n-NWH_Q1"><circle class="c7" cx="2381" cy="2013" r="23.5"/><text class="t" x="2381" y="2013">NWH_Q1</text></g>
<g id="n-VDMWL_Q2"><circle class="c7" cx="2554" cy="2073" r="23.5"/><text class="t" x="2554" y="2073">VDMWL_Q2</text></g>
<g id="n-VZS_Q1"><circle class="c7" cx="2629" cy="2094" r="23.5"/><text class="t" x="2629" y="2094">VZS_Q1</text></g>
<g id="n-DM_Q1"><circle class="c7" cx="2632" cy="2140" r="23.5"/><text class="t" x="2632" y="2140">DM_Q1</text></g>
<g id="n-SPR_Q1"><circle class="c7" cx="2577" cy="2178" r="23.5"/><text class="t" x="2577" y="2178">SPR_Q1</text></g>
<g id="n-C5A_Q1"><circle class="c7" cx="2612" cy="2157" r="23.5"/><text class="t" x="2612" y="2157">C5A_Q1</text></g>
<g id="n-VEL_Q2"><circle class="c7" cx="2504" cy="2132" r="23.5"/><text class="t" x="2504" y="2132">VEL_Q2</text></g>
<g id="n-ELS_Q1"><circle class="c7" cx="2459" cy="2228" r="23.5"/><text class="t" x="2459" y="2228">ELS_Q1</text></g>
<g id="n-LRB_Q1"><circle class="c7" cx="2643" cy="2247" r="23.5"/><text class="t" x="2643" y="2247">LRB_Q1</text></g>
<g id="n-IJS_Q1"><circle class="c7" cx="2672" cy="2267" r="23.5"/><text class="t" x="2672" y="2267">IJS_Q1</text></g>
<g id="n-563_Q1"><circle class="c5" cx="1034" cy="1399" r="23.5"/><text class="t" x="1034" y="1399">563_Q1</text></g>
<g id="n-VRIG_Q1"><circle class="c5" cx="1091" cy="1502" r="23.5"/><text class="t" x="1091" y="1502">VRIG_Q1</text></g>
<g id="n-HOL_LKSH"><circle class="c5" cx="577" cy="1446" r="23.5"/><text class="t" x="577" y="1446">HOL_LKSH</text></g>
<g id="n-HOL_TMB21"><circle class="c5" cx="734" cy="1432" r="23.5"/><text class="t" x="734" y="1432">HOL_TMB21</text></g>
<g id="n-HOL_TMB12"><circle class="c5" cx="879" cy="1520" r="23.5"/><text class="t" x="879" y="1520">HOL_TMB12</text></g>
<g id="n-ATTO_Q1"><circle class="c5" cx="978" cy="1541" r="23.5"/><text class="t" x="978" y="1541">ATTO_Q1</text></g>
<g id="n-HOL_TMB22"><circle class="c5" cx="751" cy="1546" r="23.5"/><text class="t" x="751" y="1546">HOL_TMB22</text></g>
<g id="n-HOL_WEDE"><circle class="c5" cx="913" cy="1637" r="23.5"/><text class="t" x="913" y="1637">HOL_WEDE</text></g>
<g id="n-HOL_K9SA"><circle class="c5" cx="499" cy="1707" r="23.5"/><text class="t" x="499" y="1707">HOL_K9SA</text></g>
<g id="n-202_Q1"><circle class="c5" cx="864" cy="1728" r="23.5"/><text class="t" x="864" y="1728">202_Q1</text></g>
<g id="n-HOL_WEDW"><circle class="c5" cx="832" cy="1698" r="23.5"/><text class="t" x="832" y="1698">HOL_WEDW</text></g>
<g id="n-HOL_TATE"><circle class="c5" cx="758" cy="1790" r="23.5"/><text class="t" x="758" y="1790">HOL_TATE</text></g>
<g id="n-HOL_MB253"><circle class="c5" cx="718" cy="1782" r="23.5"/><text class="t" x="718" y="1782">HOL_MB253</text></g>
<g id="n-HOL_TRMB33"><circle class="c5" cx="780" cy="1858" r="23.5"/><text class="t" x="780" y="1858">HOL_TRMB33</text></g>
<g id="n-HOL_TRMB32"><circle class="c5" cx="773" cy="1854" r="23.5"/><text class="t" x="773" y="1854">HOL_TRMB32</text></g>
<g id="n-HOL_KORB"><circle class="c5" cx="703" cy="1900" r="23.5"/><text class="t" x="703" y="1900">HOL_KORB</text></g>
<g id="n-SARR2_Q1"><circle class="c5" cx="678" cy="2015" r="23.5"/><text class="t" x="678" y="2015">SARR2_Q1</text></g>
<g id="n-STF_Q1"><circle class="c4" cx="918" cy="2240" r="23.5"/><text class="t" x="918" y="2240">STF_Q1</text></g>
<g id="n-CUY_Q1"><circle class="c4" cx="1027" cy="2572" r="23.5"/><text class="t" x="1027" y="2572">CUY_Q1</text></g>
<g id="n-GENP_Q1"><circle class="c4" cx="1063" cy="2713" r="23.5"/><text class="t" x="1063" y="2713">GENP_Q1</text></g>
<g id="n-TAH_Q1"><circle class="c4" cx="1149" cy="2745" r="23.5"/><text class="t" x="1149" y="2745">TAH_Q1</text></g>
<g id="n-DIK_Q1"><circle class="c4" cx="1288" cy="2854" r="23.5"/><text class="t" x="1288" y="2854">DIK_Q1</text></g>
<g id="n-VAL_Q1"><circle class="c4" cx="1393" cy="2904" r="23.5"/><text class="t" x="1393" y="2904">VAL_Q1</text></g>
<g id="n-COS_Q1"><circle class="c4" cx="1378" cy="2921" r="23.5"/><text class="t" x="1378" y="2921">COS_Q1</text></g>
<g id="n-VEL_Q1"><circle class="c6" cx="574" cy="3016" r="23.5"/><text class="t" x="574" y="3016">VEL_Q1</text></g>
<g id="n-DIF_Q1"><circle class="c6" cx="556" cy="3110" r="23.5"/><text class="t" x="556" y="3110">DIF_Q1</text></g>
<g id="n-WEF_Q1"><circle class="c6" cx="499" cy="3181" r="23.5"/><text class="t" x="499" y="3181">WEF_Q1</text></g>
<g id="n-ABC_Q1"><circle class="c6" cx="581" cy="3198" r="23.5"/><text class="t" x="581" y="3198">ABC_Q1</text></g>
<g id="n-BECRRB"><circle class="c10" cx="820" cy="3016" r="23.5"/><text class="t" x="820" y="3016">BECRRB</text></g>
<g id="n-BECRMA"><circle class="c10" cx="748" cy="3070" r="23.5"/><text class="t" x="748" y="3070">BECRMA</text></g>
<g id="n-BECRSB"><circle class="c10" cx="675" cy="3125" r="23.5"/><text class="t" x="675" y="3125">BECRSB</text></g>
<g id="n-HOL_MB259"><circle class="c15" cx="914" cy="3031" r="23.5"/><text class="t" x="914" y="3031">HOL_MB259</text></g>
<g id="n-HOL_TWMR"><circle class="c15" cx="992" cy="3017" r="23.5"/><text class="t" x="992" y="3017">HOL_TWMR</text></g>
<g id="n-HOL_TWML"><circle class="c15" cx="1004" cy="3015" r="23.5"/><text class="t" x="1004" y="3015">HOL_TWML</text></g>
<g id="n-LMH_Q2"><circle class="c13" cx="1127" cy="3016" r="23.5"/><text class="t" x="1127" y="3016">LMH_Q2</text></g>
<g id="n-HBW_Q1"><circle class="c13" cx="1099" cy="3096" r="23.5"/><text class="t" x="1099" y="3096">HBW_Q1</text></g>
<g id="n-HOK_Q2"><circle class="c14" cx="1222" cy="3016" r="23.5"/><text class="t" x="1222" y="3016">HOK_Q2</text></g>
<g id="n-RHH_Q1"><circle class="c14" cx="1300" cy="3047" r="23.5"/><text class="t" x="1300" y="3047">RHH_Q1</text></g>
</g>
</svg>
